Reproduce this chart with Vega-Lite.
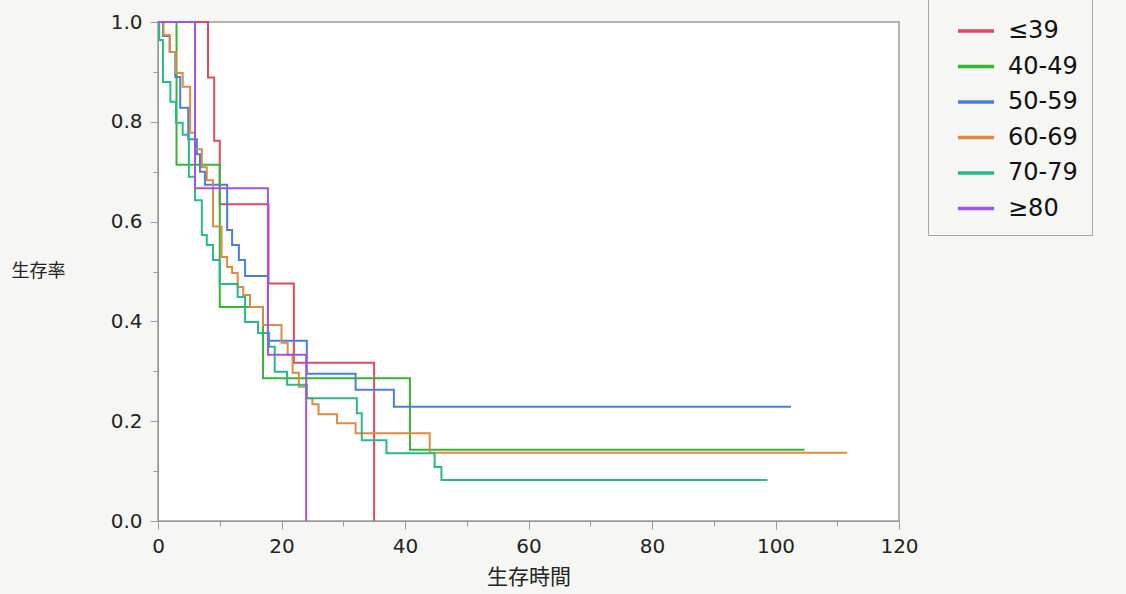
{
  "$schema": "https://vega.github.io/schema/vega-lite/v6.json",
  "width": 741,
  "height": 499,
  "autosize": "none",
  "padding": {"left": 158, "top": 22, "right": 227, "bottom": 73},
  "background": "#f6f6f4",
  "view": {"fill": "white", "stroke": "#9c9c9c", "strokeWidth": 1.5},
  "datasets": {
    "km": [
      {"g": "≤39", "i": 0, "t": 0, "s": 1},
      {"g": "≤39", "i": 1, "t": 8.1, "s": 0.889},
      {"g": "≤39", "i": 2, "t": 9.1, "s": 0.762},
      {"g": "≤39", "i": 3, "t": 10, "s": 0.635},
      {"g": "≤39", "i": 4, "t": 17.9, "s": 0.476},
      {"g": "≤39", "i": 5, "t": 22, "s": 0.317},
      {"g": "≤39", "i": 6, "t": 35, "s": 0},

      {"g": "40-49", "i": 0, "t": 0, "s": 1},
      {"g": "40-49", "i": 1, "t": 3, "s": 0.714},
      {"g": "40-49", "i": 2, "t": 10, "s": 0.429},
      {"g": "40-49", "i": 3, "t": 17, "s": 0.286},
      {"g": "40-49", "i": 4, "t": 40.8, "s": 0.143},
      {"g": "40-49", "i": 5, "t": 104.7, "s": 0.143},

      {"g": "50-59", "i": 0, "t": 0, "s": 1},
      {"g": "50-59", "i": 1, "t": 0.8, "s": 0.972},
      {"g": "50-59", "i": 2, "t": 1.9, "s": 0.94},
      {"g": "50-59", "i": 3, "t": 2.8, "s": 0.89},
      {"g": "50-59", "i": 4, "t": 3.6, "s": 0.828},
      {"g": "50-59", "i": 5, "t": 4.9, "s": 0.765},
      {"g": "50-59", "i": 6, "t": 6.3, "s": 0.735},
      {"g": "50-59", "i": 7, "t": 6.8, "s": 0.7},
      {"g": "50-59", "i": 8, "t": 7.6, "s": 0.674},
      {"g": "50-59", "i": 9, "t": 11.2, "s": 0.583},
      {"g": "50-59", "i": 10, "t": 12, "s": 0.553},
      {"g": "50-59", "i": 11, "t": 13.1, "s": 0.523},
      {"g": "50-59", "i": 12, "t": 14.1, "s": 0.491},
      {"g": "50-59", "i": 13, "t": 17.8, "s": 0.361},
      {"g": "50-59", "i": 14, "t": 24.1, "s": 0.295},
      {"g": "50-59", "i": 15, "t": 32, "s": 0.263},
      {"g": "50-59", "i": 16, "t": 38.2, "s": 0.229},
      {"g": "50-59", "i": 17, "t": 102.5, "s": 0.229},

      {"g": "60-69", "i": 0, "t": 0, "s": 1},
      {"g": "60-69", "i": 1, "t": 0.9, "s": 0.974},
      {"g": "60-69", "i": 2, "t": 1.9, "s": 0.94},
      {"g": "60-69", "i": 3, "t": 2.9, "s": 0.898},
      {"g": "60-69", "i": 4, "t": 4, "s": 0.87},
      {"g": "60-69", "i": 5, "t": 5.2, "s": 0.778},
      {"g": "60-69", "i": 6, "t": 6, "s": 0.745},
      {"g": "60-69", "i": 7, "t": 7.1, "s": 0.709},
      {"g": "60-69", "i": 8, "t": 7.9, "s": 0.683},
      {"g": "60-69", "i": 9, "t": 8.9, "s": 0.59},
      {"g": "60-69", "i": 10, "t": 10.3, "s": 0.529},
      {"g": "60-69", "i": 11, "t": 11.2, "s": 0.509},
      {"g": "60-69", "i": 12, "t": 12, "s": 0.497},
      {"g": "60-69", "i": 13, "t": 12.9, "s": 0.469},
      {"g": "60-69", "i": 14, "t": 13.8, "s": 0.453},
      {"g": "60-69", "i": 15, "t": 14.9, "s": 0.429},
      {"g": "60-69", "i": 16, "t": 17, "s": 0.393},
      {"g": "60-69", "i": 17, "t": 20, "s": 0.357},
      {"g": "60-69", "i": 18, "t": 21, "s": 0.333},
      {"g": "60-69", "i": 19, "t": 21.8, "s": 0.297},
      {"g": "60-69", "i": 20, "t": 22.8, "s": 0.269},
      {"g": "60-69", "i": 21, "t": 24, "s": 0.246},
      {"g": "60-69", "i": 22, "t": 25, "s": 0.234},
      {"g": "60-69", "i": 23, "t": 26, "s": 0.214},
      {"g": "60-69", "i": 24, "t": 29, "s": 0.196},
      {"g": "60-69", "i": 25, "t": 32, "s": 0.176},
      {"g": "60-69", "i": 26, "t": 44, "s": 0.137},
      {"g": "60-69", "i": 27, "t": 111.6, "s": 0.137},

      {"g": "70-79", "i": 0, "t": 0, "s": 1},
      {"g": "70-79", "i": 1, "t": 0.2, "s": 0.964},
      {"g": "70-79", "i": 2, "t": 0.8, "s": 0.88},
      {"g": "70-79", "i": 3, "t": 2, "s": 0.84},
      {"g": "70-79", "i": 4, "t": 2.9, "s": 0.798},
      {"g": "70-79", "i": 5, "t": 4, "s": 0.774},
      {"g": "70-79", "i": 6, "t": 5, "s": 0.69},
      {"g": "70-79", "i": 7, "t": 6, "s": 0.643},
      {"g": "70-79", "i": 8, "t": 7.1, "s": 0.573},
      {"g": "70-79", "i": 9, "t": 7.9, "s": 0.553},
      {"g": "70-79", "i": 10, "t": 8.9, "s": 0.523},
      {"g": "70-79", "i": 11, "t": 10, "s": 0.475},
      {"g": "70-79", "i": 12, "t": 12.9, "s": 0.449},
      {"g": "70-79", "i": 13, "t": 14.1, "s": 0.399},
      {"g": "70-79", "i": 14, "t": 16.2, "s": 0.377},
      {"g": "70-79", "i": 15, "t": 18, "s": 0.349},
      {"g": "70-79", "i": 16, "t": 18.9, "s": 0.299},
      {"g": "70-79", "i": 17, "t": 20.9, "s": 0.273},
      {"g": "70-79", "i": 18, "t": 24.1, "s": 0.246},
      {"g": "70-79", "i": 19, "t": 32.2, "s": 0.216},
      {"g": "70-79", "i": 20, "t": 33, "s": 0.162},
      {"g": "70-79", "i": 21, "t": 37, "s": 0.136},
      {"g": "70-79", "i": 22, "t": 44.8, "s": 0.108},
      {"g": "70-79", "i": 23, "t": 45.9, "s": 0.082},
      {"g": "70-79", "i": 24, "t": 98.7, "s": 0.082},

      {"g": "≥80", "i": 0, "t": 0, "s": 1},
      {"g": "≥80", "i": 1, "t": 6, "s": 0.667},
      {"g": "≥80", "i": 2, "t": 17.8, "s": 0.333},
      {"g": "≥80", "i": 3, "t": 24, "s": 0}
    ]
  },
  "data": {"name": "km"},
  "mark": {"type": "line", "interpolate": "step-after", "strokeWidth": 2},
  "encoding": {
    "x": {
      "field": "t",
      "type": "quantitative",
      "scale": {"domain": [0, 120], "nice": false, "zero": false},
      "axis": {
        "title": "生存時間",
        "titleFont": "Noto Sans CJK JP",
        "titleFontSize": 21,
        "titleFontWeight": "normal",
        "titleColor": "#222",
        "titlePadding": 10,
        "values": [0, 10, 20, 30, 40, 50, 60, 70, 80, 90, 100, 110, 120],
        "labelExpr": "datum.value % 20 === 0 ? datum.label : ''",
        "labelFont": "DejaVu Sans",
        "labelFontSize": 20,
        "labelColor": "#222",
        "labelFlush": false,
        "labelPadding": 7,
        "tickColor": "#999",
        "tickSize": {"condition": {"test": "datum.value % 20 === 0", "value": 8}, "value": 5},
        "domainColor": "#999",
        "grid": false
      }
    },
    "y": {
      "field": "s",
      "type": "quantitative",
      "scale": {"domain": [0, 1], "nice": false},
      "axis": {
        "title": "生存率",
        "titleFont": "Noto Sans CJK JP",
        "titleFontSize": 18,
        "titleFontWeight": "normal",
        "titleColor": "#222",
        "titleAngle": 0,
        "titleAlign": "center",
        "titleBaseline": "middle",
        "titleX": -120,
        "titleY": 249,
        "values": [0, 0.1, 0.2, 0.3, 0.4, 0.5, 0.6, 0.7, 0.8, 0.9, 1.0],
        "labelExpr": "round(datum.value * 10) % 2 === 0 ? format(datum.value, '.1f') : ''",
        "labelFont": "DejaVu Sans",
        "labelFontSize": 20,
        "labelColor": "#222",
        "labelFlush": false,
        "labelPadding": 8,
        "tickColor": "#999",
        "tickSize": {"condition": {"test": "round(datum.value * 10) % 2 === 0", "value": 8}, "value": 5},
        "domainColor": "#999",
        "grid": false
      }
    },
    "color": {
      "field": "g",
      "type": "nominal",
      "scale": {
        "domain": ["≤39", "40-49", "50-59", "60-69", "70-79", "≥80"],
        "range": ["#dc4a64", "#37b434", "#4a7fd8", "#de8a45", "#2ab98b", "#a154e4"]
      },
      "legend": {
        "title": null,
        "orient": "none",
        "legendX": 770,
        "legendY": -25,
        "symbolType": "stroke",
        "symbolSize": 1300,
        "symbolStrokeWidth": 3.5,
        "symbolOffset": 14,
        "labelFont": "DejaVu Sans",
        "labelFontSize": 24,
        "labelColor": "#111",
        "labelOffset": 12,
        "rowPadding": 3.5,
        "padding": 14,
        "fillColor": "#f6f6f4",
        "strokeColor": "#a8a8a8"
      }
    },
    "order": {"field": "i", "type": "quantitative"}
  }
}
